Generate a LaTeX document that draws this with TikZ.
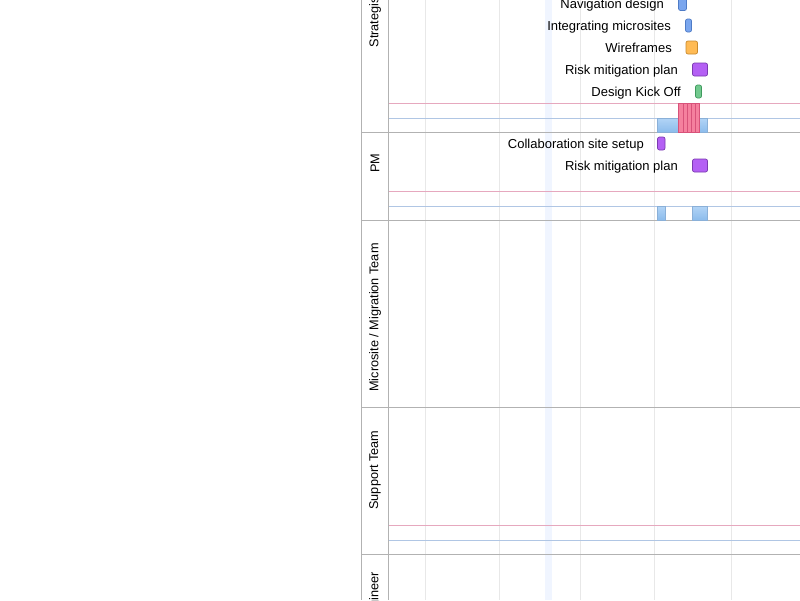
\documentclass[tikz,border=0pt]{standalone}
\usepackage{fontspec}
\setmainfont{Liberation Sans}
\begin{document}
\begin{tikzpicture}[x=1pt,y=-1pt,
  grid/.style={draw=black!9, line width=0.8pt},
  frame/.style={draw=black!30, line width=0.9pt},
  bar/.style={rounded corners=2pt, line width=0.7pt},
  bluebar/.style={bar, fill=tbblue, draw=tbblueD},
  purplebar/.style={bar, fill=tbpurple, draw=tbpurpleD},
  orangebar/.style={bar, fill=tborange, draw=tborangeD},
  greenbar/.style={bar, fill=tbgreen, draw=tbgreenD},
  tasklabel/.style={anchor=base east, inner sep=0pt, font=\fontsize{13}{15}\selectfont, text=black},
  lanelabel/.style={rotate=90, inner sep=0pt, font=\fontsize{12.7}{15}\selectfont, text=black},
  sumblue/.style={top color=sbTop, bottom color=sbBot, draw=sbD, line width=0.5pt},
  sumpink/.style={fill=spink, draw=spinkD, line width=0.5pt}]
\definecolor{tbblue}{HTML}{7AA6EE}
\definecolor{tbblueD}{HTML}{4E7BC6}
\definecolor{tbpurple}{HTML}{B460F4}
\definecolor{tbpurpleD}{HTML}{7B3BB0}
\definecolor{tborange}{HTML}{FFBB55}
\definecolor{tborangeD}{HTML}{C88A2E}
\definecolor{tbgreen}{HTML}{72C98E}
\definecolor{tbgreenD}{HTML}{3F9A5E}
\definecolor{sbTop}{HTML}{B2D4F6}
\definecolor{sbBot}{HTML}{8CBCEC}
\definecolor{sbD}{HTML}{8AB0D8}
\definecolor{spink}{HTML}{F5809E}
\definecolor{spinkD}{HTML}{D8527A}
\definecolor{pinkL}{HTML}{E6A8BE}
\definecolor{blueL}{HTML}{B0C6E4}
\definecolor{bandL}{HTML}{F0F5FF}
\useasboundingbox (0,0) rectangle (800,600);
\clip (0,0) rectangle (800,600);
\fill[white] (0,0) rectangle (800,600);
% highlighted day band
\fill[bandL] (545,0) rectangle (552,600);
% vertical grid
\foreach \gx in {425,499,580,654,731} \draw[grid] (\gx,0) -- (\gx,600);
% summary lines
\foreach \ly in {103.5,191,525.5} \draw[draw=pinkL, line width=0.7pt] (388,\ly) -- (800,\ly);
\foreach \ly in {118,206,540} \draw[draw=blueL, line width=0.7pt] (388,\ly) -- (800,\ly);
% lane separators
\foreach \ly in {132,220,407,554} \draw[frame] (361,\ly) -- (800,\ly);
\draw[frame] (361,0) -- (361,600);
\draw[frame] (388,0) -- (388,600);
% lane labels
\node[lanelabel, anchor=west] (lStrat) at (375,47.5) {Strategist};
\node[lanelabel] (lPM) at (375,163) {PM};
\node[lanelabel] (lMig) at (375,317.5) {Microsite / Migration Team};
\node[lanelabel] (lSup) at (375,470) {Support Team};
\node[lanelabel, anchor=east] (lEng) at (375,572) {Engineer};
% Strategist tasks
\draw[bluebar] (678.5,-4) rectangle (686.5,10.5);
\node[tasklabel] (tNav) at (664,8.5) {Navigation design};
\draw[bluebar] (685.5,19) rectangle (691.5,32);
\node[tasklabel] (tInt) at (671,30) {Integrating microsites};
\draw[orangebar] (686,41) rectangle (697.5,54);
\node[tasklabel] (tWire) at (672,52) {Wireframes};
\draw[purplebar] (692.5,63) rectangle (707.5,76);
\node[tasklabel] (tRisk) at (678,74) {Risk mitigation plan};
\draw[greenbar] (695.5,85) rectangle (701.5,98);
\node[tasklabel] (tKick) at (681,96) {Design Kick Off};
% Strategist summary
\draw[sumblue] (657,118) rectangle (707,132);
\draw[sumpink] (678.5,103.5) rectangle (699.5,132);
\foreach \sx in {683,687,691,695} \draw[draw=spinkD, line width=0.6pt] (\sx,103.5) -- (\sx,132);
% PM tasks
\draw[purplebar] (657.5,137) rectangle (665,150);
\node[tasklabel] (tCol) at (644,148) {Collaboration site setup};
\draw[purplebar] (692.5,159) rectangle (707.5,172);
\node[tasklabel] (tRisk2) at (678,170) {Risk mitigation plan};
% PM summary
\draw[sumblue] (657,206) rectangle (665,220);
\draw[sumblue] (692.5,206) rectangle (707,220);
\end{tikzpicture}
\end{document}
